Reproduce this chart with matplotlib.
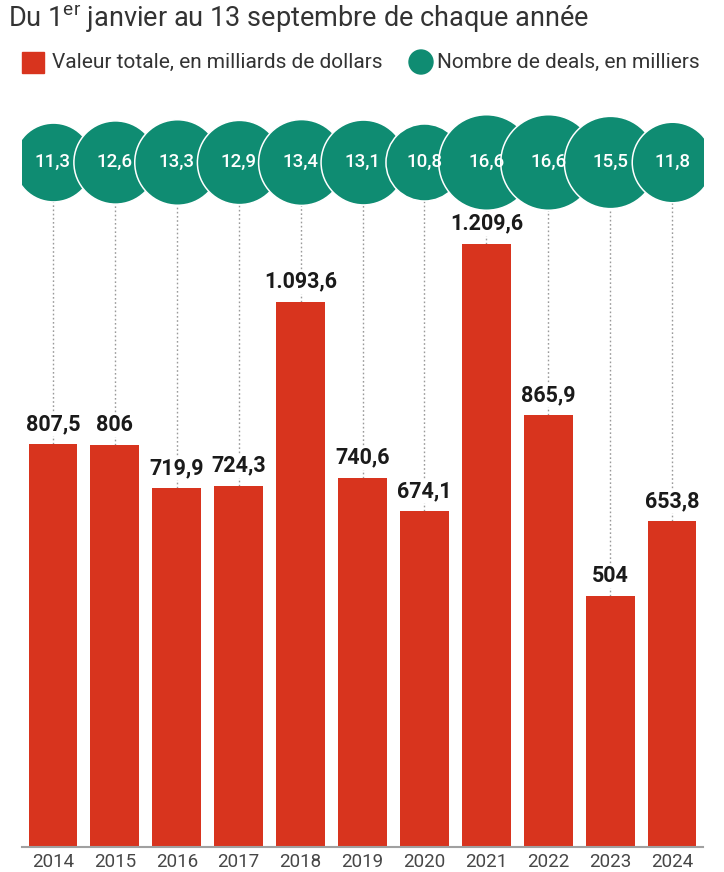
import matplotlib.pyplot as plt
from matplotlib.patches import Rectangle, Circle
import numpy as np

# Data
years = ['2014', '2015', '2016', '2017', '2018', '2019', '2020', '2021', '2022', '2023', '2024']
valeur = [807.5, 806, 719.9, 724.3, 1093.6, 740.6, 674.1, 1209.6, 865.9, 504, 653.8]  # milliards de dollars
deals = [11.3, 12.6, 13.3, 12.9, 13.4, 13.1, 10.8, 16.6, 16.6, 15.5, 11.8]  # milliers

RED = '#d8341e'
GREEN = '#0f8c72'

plt.rcParams['font.family'] = ['Roboto', 'DejaVu Sans']
plt.rcParams['mathtext.fontset'] = 'custom'
plt.rcParams['mathtext.rm'] = 'Roboto'


def fr_number(v):
    # french style: thousands with '.', decimals with ','
    if float(v).is_integer():
        return f'{int(v):,}'.replace(',', '.')
    s = f'{v:,.1f}'
    return s.replace(',', ' ').replace('.', ',').replace(' ', '.')


W, H = 724, 872
fig = plt.figure(figsize=(W / 100, H / 100), dpi=100)

# main axes: bars + bubbles
ax = fig.add_axes([22 / W, 25 / H, 681 / W, 748 / H])
x = np.arange(len(years))
ax.set_xlim(-0.5, len(years) - 0.5)
ax.set_ylim(0, 1500)

ax.bar(x, valeur, width=0.79, color=RED, zorder=2)

circle_y = 1374
ax.vlines(x, valeur, circle_y, colors='#9a9a9a', linestyles=(0, (1.2, 1.8)), linewidth=1, zorder=1)

for xi, v in zip(x, valeur):
    ax.text(xi, v + 18, fr_number(v), ha='center', va='bottom', fontsize=15.5, fontweight='bold',
            color='#1a1a1a', zorder=4,
            bbox=dict(boxstyle='square,pad=0.05', fc='white', ec='none'))

# bubble area proportional to the number of deals
sizes = [285 * d for d in deals]
for xi, d, s in zip(x, deals, sizes):
    ax.scatter([xi], [circle_y], s=s, color=GREEN, edgecolors='white', linewidths=1.1, zorder=5 + xi)
    ax.text(xi, circle_y, fr_number(d), ha='center', va='center', fontsize=13.5, fontweight='medium',
            color='white', zorder=30)

ax.set_xticks(x)
ax.set_xticklabels(years, fontsize=13.5, color='#474747')
ax.tick_params(axis='x', length=0, pad=4)
ax.set_yticks([])
for side in ['top', 'left', 'right']:
    ax.spines[side].set_visible(False)
ax.spines['bottom'].set_color('#a0a0a0')
ax.spines['bottom'].set_linewidth(1.5)
ax.spines['bottom'].set_zorder(6)

# header: subtitle and legend
hdr = fig.add_axes([0, 0, 1, 1], zorder=-1)
hdr.set_xlim(0, W)
hdr.set_ylim(H, 0)
hdr.axis('off')

hdr.text(8, 18, r'Du 1$^{\mathrm{er}}$ janvier au 13 septembre de chaque année', fontsize=19.5,
         color='#333333', ha='left', va='center')

hdr.add_patch(Rectangle((22, 52), 22, 21, color=RED))
hdr.text(52, 62, 'Valeur totale, en milliards de dollars', fontsize=15, color='#333333',
         ha='left', va='center')
hdr.add_patch(Circle((421, 62), 12, color=GREEN))
hdr.text(437, 62, 'Nombre de deals, en milliers', fontsize=15, color='#333333',
         ha='left', va='center')

fig.savefig('out.png', dpi=100, facecolor='white')
